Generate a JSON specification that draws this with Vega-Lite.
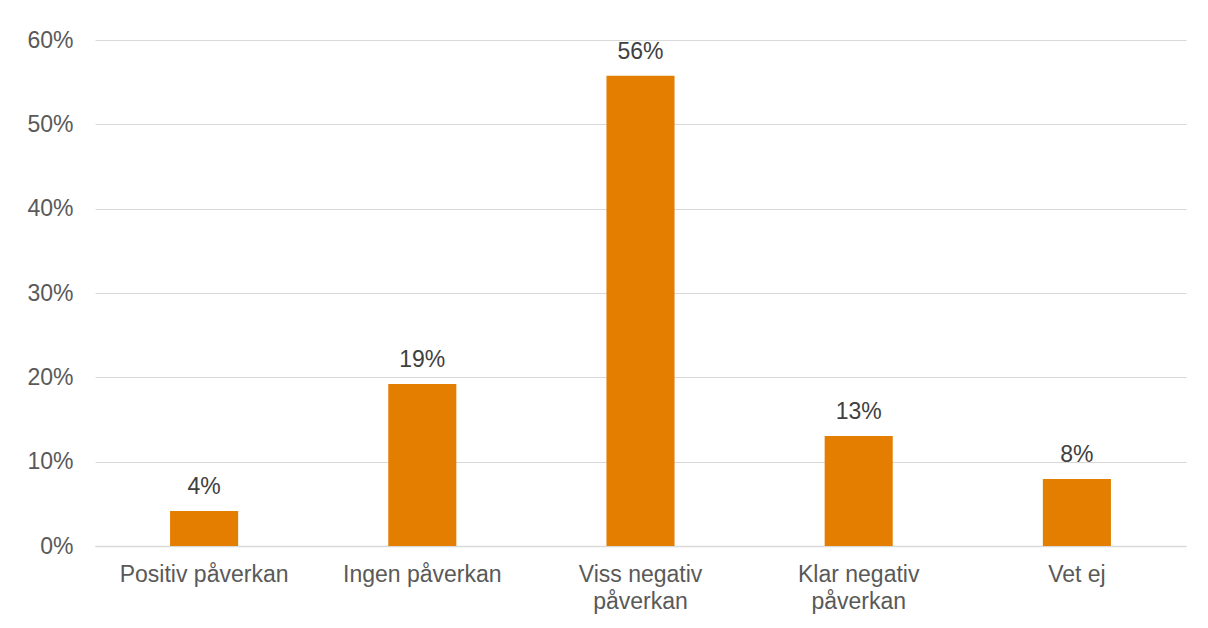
{
  "$schema": "https://vega.github.io/schema/vega-lite/v6.json",
  "width": 1091,
  "height": 506,
  "autosize": {"type": "none"},
  "padding": {"left": 95, "top": 40, "right": 22, "bottom": 82},
  "background": "white",
  "config": {
    "view": {"stroke": null},
    "font": "Liberation Sans",
    "axis": {"labelFont": "Liberation Sans", "labelFontSize": 23, "labelColor": "#595959"}
  },
  "data": {
    "values": [
      {"kategori": "Positiv påverkan", "andel": 0.0415},
      {"kategori": "Ingen påverkan", "andel": 0.192},
      {"kategori": "Viss negativ påverkan", "andel": 0.5575},
      {"kategori": "Klar negativ påverkan", "andel": 0.1305},
      {"kategori": "Vet ej", "andel": 0.0795}
    ]
  },
  "encoding": {
    "x": {
      "field": "kategori",
      "type": "nominal",
      "sort": null,
      "scale": {"paddingInner": 0.688, "paddingOuter": 0.344},
      "axis": {
        "title": null,
        "labelAngle": 0,
        "ticks": false,
        "domain": true,
        "domainColor": "#d9d9d9",
        "domainWidth": 1.5,
        "labelPadding": 17,
        "labelLineHeight": 27,
        "labelExpr": "datum.value == 'Viss negativ påverkan' ? ['Viss negativ', 'påverkan'] : datum.value == 'Klar negativ påverkan' ? ['Klar negativ', 'påverkan'] : datum.value"
      }
    },
    "y": {
      "field": "andel",
      "type": "quantitative",
      "scale": {"domain": [0, 0.6], "nice": false},
      "axis": {
        "title": null,
        "format": ".0%",
        "values": [0, 0.1, 0.2, 0.3, 0.4, 0.5, 0.6],
        "domain": false,
        "ticks": false,
        "gridColor": "#d9d9d9",
        "gridWidth": 1.2,
        "labelPadding": 22
      }
    }
  },
  "layer": [
    {"mark": {"type": "bar", "color": "#E37E00"}},
    {
      "mark": {"type": "text", "dy": -24, "fontSize": 23, "color": "#404040", "font": "Liberation Sans"},
      "encoding": {"text": {"field": "andel", "format": ".0%"}}
    }
  ]
}
